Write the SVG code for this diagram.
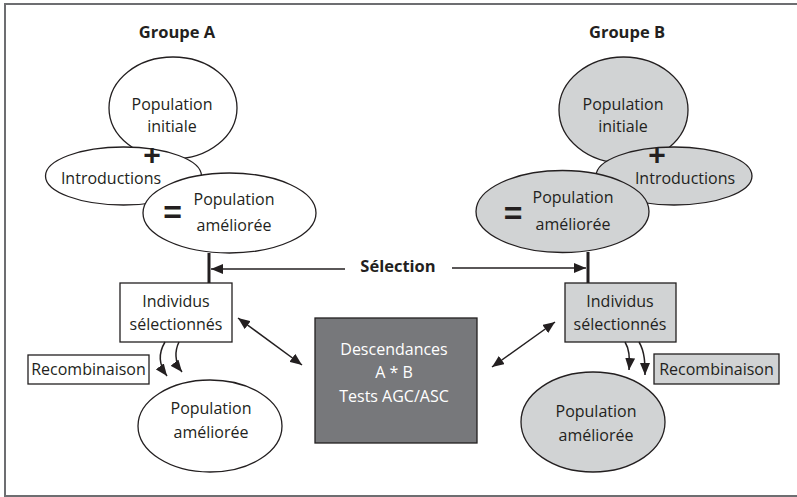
<svg xmlns="http://www.w3.org/2000/svg" width="797" height="497" viewBox="0 0 797 497">
<defs>
<style>
text{font-family:"Open Sans","Liberation Sans",Arial,sans-serif;font-size:16px;fill:#231f20;text-anchor:middle}
.b{font-weight:bold;font-size:16.5px}
.w{fill:#ffffff}
.sym{font-family:"Liberation Sans",Arial,sans-serif;font-weight:bold;font-size:30px}
.shape{stroke:#231f20;stroke-width:1.3}
.white{fill:#ffffff}
.grey{fill:#d1d3d4}
.dark{fill:#77787b}
.conn{stroke:#231f20;stroke-width:1.5;fill:none}
.thick{stroke:#231f20;stroke-width:3;fill:none}
</style>
<marker id="ah" viewBox="0 0 12 10" refX="12" refY="5" markerWidth="12" markerHeight="10" markerUnits="userSpaceOnUse" orient="auto-start-reverse">
<path d="M0,0 L12,5 L0,10 Z" fill="#231f20"/>
</marker>
</defs>
<rect x="5" y="4" width="797" height="492" fill="#ffffff" stroke="#6d6e71" stroke-width="2"/>
<text class="b" x="177" y="38">Groupe A</text>
<text class="b" x="627" y="38">Groupe B</text>

<g id="a-initiale">
<ellipse class="shape white" cx="173" cy="108" rx="64" ry="51"/>
<text x="172" y="110">Population</text>
<text x="172" y="132">initiale</text>
</g>
<g id="a-introductions">
<ellipse class="shape white" cx="123.5" cy="176" rx="78" ry="29"/>
<text x="111" y="184">Introductions</text>
</g>
<g id="a-amelioree">
<ellipse class="shape white" cx="229.5" cy="213" rx="86.5" ry="40"/>
<text x="234" y="205">Population</text>
<text x="234" y="231">améliorée</text>
<text class="sym" x="172.5" y="223" style="font-size:32px">=</text>
</g>
<text class="sym" x="152" y="165">+</text>

<g id="b-initiale">
<ellipse class="shape grey" cx="623.5" cy="110" rx="64.5" ry="53"/>
<text x="623" y="110">Population</text>
<text x="623" y="132">initiale</text>
</g>
<g id="b-introductions">
<ellipse class="shape grey" cx="674" cy="176" rx="78" ry="29"/>
<text x="685" y="184">Introductions</text>
</g>
<g id="b-amelioree">
<ellipse class="shape grey" cx="562.5" cy="211.5" rx="86.5" ry="41"/>
<text x="573" y="203">Population</text>
<text x="573" y="230">améliorée</text>
<text class="sym" x="513" y="224" style="font-size:32px">=</text>
</g>
<text class="sym" x="657" y="165">+</text>

<g id="selection">
<text class="b" x="398" y="272">Sélection</text>
</g>

<g id="a-individus">
<rect class="shape white" x="120" y="283" width="112" height="59"/>
<text x="176" y="307">Individus</text>
<text x="176" y="330">sélectionnés</text>
</g>
<g id="b-individus">
<rect class="shape grey" x="565" y="283" width="111" height="59"/>
<text x="620" y="307">Individus</text>
<text x="620" y="330">sélectionnés</text>
</g>
<g id="a-recombinaison">
<rect class="shape white" x="28" y="355" width="121" height="29"/>
<text x="88.5" y="375">Recombinaison</text>
</g>
<g id="b-recombinaison">
<rect class="shape grey" x="654" y="354" width="125" height="30"/>
<text x="716.5" y="375">Recombinaison</text>
</g>
<g id="descendances">
<rect class="shape dark" x="315" y="318" width="162" height="125" stroke-width="1.5"/>
<text class="w" x="394" y="355">Descendances</text>
<text class="w" x="394" y="378">A * B</text>
<text class="w" x="394" y="402">Tests AGC/ASC</text>
</g>
<g id="a-pop-finale">
<ellipse class="shape white" cx="210" cy="426" rx="72" ry="46"/>
<text x="211" y="414">Population</text>
<text x="211" y="438">améliorée</text>
</g>
<g id="b-pop-finale">
<ellipse class="shape grey" cx="593" cy="422" rx="72" ry="50"/>
<text x="596" y="417">Population</text>
<text x="596" y="441">améliorée</text>
</g>

<g id="connectors">
<line class="thick" x1="209" y1="253" x2="209" y2="283"/>
<line class="thick" x1="588" y1="252" x2="588" y2="283"/>
<line class="conn" x1="345" y1="269" x2="211" y2="269" marker-end="url(#ah)"/>
<line class="conn" x1="452" y1="268" x2="586" y2="268" marker-end="url(#ah)"/>
<line class="conn" x1="238" y1="318" x2="302" y2="365" marker-start="url(#ah)" marker-end="url(#ah)"/>
<line class="conn" x1="555" y1="322" x2="492" y2="367" marker-start="url(#ah)" marker-end="url(#ah)"/>
<path class="conn" d="M165,342 C159,352 158,364 167,376" marker-end="url(#ah)"/>
<path class="conn" d="M179,342 C175,350 174,362 182,372" marker-end="url(#ah)"/>
<path class="conn" d="M625,342 C630,350 630,360 629,370" marker-end="url(#ah)"/>
<path class="conn" d="M639,342 C645,352 645,364 645,375" marker-end="url(#ah)"/>
</g>
</svg>
